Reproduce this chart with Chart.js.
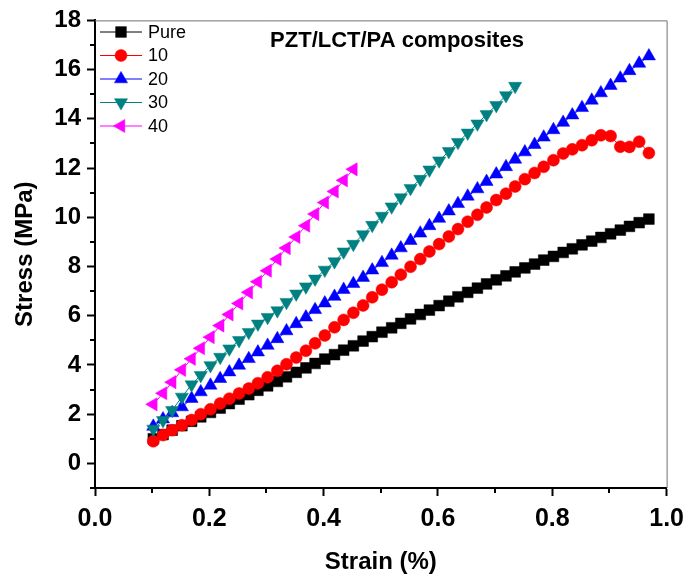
<!DOCTYPE html>
<html>
<head>
<meta charset="utf-8">
<script src="https://cdn.jsdelivr.net/npm/chart.js@4.4.1/dist/chart.umd.min.js"></script>
<style>
  html, body { margin: 0; padding: 0; background: #fff; }
  #wrap { width: 692px; height: 581px; }
</style>
</head>
<body>
<div id="wrap"><canvas id="stressChart" width="692" height="581"></canvas></div>
<script>
(() => {
  'use strict';

  // strain (%) sampling, shared by all curves
  const strain = [
    0.102, 0.119, 0.135, 0.152, 0.169, 0.185, 0.202, 0.219, 0.235, 0.252,
    0.269, 0.285, 0.302, 0.319, 0.335, 0.352, 0.369, 0.385, 0.402, 0.419,
    0.435, 0.452, 0.469, 0.485, 0.502, 0.519, 0.535, 0.552, 0.569, 0.585,
    0.602, 0.619, 0.635, 0.652, 0.669, 0.685, 0.702, 0.719, 0.735, 0.752,
    0.769, 0.785, 0.802, 0.819, 0.835, 0.852, 0.869, 0.885, 0.902, 0.919,
    0.935, 0.952, 0.969
  ];

  // stress (MPa)
  const stressPure = [
    1.00, 1.17, 1.35, 1.53, 1.71, 1.89, 2.07, 2.25, 2.43, 2.61,
    2.79, 2.97, 3.15, 3.33, 3.52, 3.70, 3.88, 4.06, 4.24, 4.42,
    4.60, 4.78, 4.97, 5.15, 5.33, 5.51, 5.69, 5.87, 6.05, 6.23,
    6.41, 6.59, 6.77, 6.95, 7.12, 7.29, 7.46, 7.62, 7.78, 7.94,
    8.10, 8.26, 8.41, 8.57, 8.72, 8.88, 9.03, 9.18, 9.33, 9.48,
    9.63, 9.78, 9.93
  ];
  const stress10 = [
    0.90, 1.15, 1.35, 1.55, 1.76, 2.00, 2.20, 2.43, 2.63, 2.84,
    3.04, 3.26, 3.50, 3.76, 4.03, 4.30, 4.58, 4.88, 5.20, 5.53,
    5.83, 6.12, 6.42, 6.75, 7.06, 7.36, 7.67, 7.99, 8.30, 8.61,
    8.91, 9.22, 9.52, 9.82, 10.10, 10.40, 10.70, 10.96, 11.25, 11.55,
    11.80, 12.05, 12.32, 12.59, 12.76, 12.93, 13.13, 13.33, 13.30, 12.87,
    12.86, 13.07, 12.61
  ];
  const stress20 = [
    1.50, 1.80, 2.05, 2.29, 2.63, 2.90, 3.17, 3.44, 3.71, 3.98,
    4.25, 4.52, 4.79, 5.06, 5.38, 5.67, 5.94, 6.24, 6.51, 6.78,
    7.06, 7.30, 7.55, 7.85, 8.15, 8.45, 8.75, 9.05, 9.35, 9.65,
    9.95, 10.25, 10.55, 10.85, 11.15, 11.45, 11.75, 12.05, 12.35, 12.65,
    12.95, 13.25, 13.55, 13.85, 14.15, 14.45, 14.75, 15.05, 15.35, 15.65,
    15.95, 16.25, 16.55
  ];
  const stress30 = [
    1.40, 1.75, 2.16, 2.70, 3.20, 3.58, 3.98, 4.32, 4.66, 5.00,
    5.33, 5.67, 5.94, 6.21, 6.55, 6.89, 7.18, 7.50, 7.86, 8.20,
    8.60, 8.91, 9.30, 9.68, 10.05, 10.43, 10.80, 11.18, 11.55, 11.93,
    12.30, 12.68, 13.05, 13.43, 13.80, 14.18, 14.55, 14.95, 15.33
  ];
  const stress40 = [
    2.40, 2.85, 3.30, 3.80, 4.25, 4.68, 5.13, 5.60, 6.05, 6.50,
    6.95, 7.38, 7.83, 8.30, 8.75, 9.20, 9.66, 10.13, 10.60, 11.05,
    11.50, 11.95
  ];

  const seriesNames = ['Pure', '10', '20', '30', '40'];
  const seriesStress = [stressPure, stress10, stress20, stress30, stress40];
  const xMajor = [0, 0.2, 0.4, 0.6, 0.8, 1.0];
  const xMinor = [0.1, 0.3, 0.5, 0.7, 0.9];
  const yMajor = [0, 2, 4, 6, 8, 10, 12, 14, 16, 18];
  const yMinor = [-1, 1, 3, 5, 7, 9, 11, 13, 15, 17];

  const FONT = 'Arial, "Liberation Sans", sans-serif';
  const looks = [
    { color: '#000000', style: 'rect', radius: 7.6, rotation: 0 },
    { color: '#ff0000', style: 'circle', radius: 6, rotation: 0 },
    { color: '#0000ff', style: 'triangle', radius: 7.6, rotation: 0 },
    { color: '#008080', style: 'triangle', radius: 7.6, rotation: 180 },
    { color: '#ff00ff', style: 'triangle', radius: 7.6, rotation: -90 }
  ];

  const datasets = seriesNames.map((name, i) => ({
    label: name,
    data: seriesStress[i].map((y, k) => ({ x: strain[k], y })),
    borderColor: looks[i].color,
    backgroundColor: looks[i].color,
    borderWidth: 1,
    pointStyle: looks[i].style,
    pointRotation: looks[i].rotation,
    pointRadius: looks[i].radius,
    pointBorderWidth: 0.5,
    pointBorderColor: looks[i].color,
    pointBackgroundColor: looks[i].color,
    order: seriesNames.length - 1 - i
  }));

  // minor ticks, grey top/right frame, in-plot title and legend
  const decorPlugin = {
    id: 'decor',
    afterDraw(chart) {
      const { ctx, chartArea: a, scales: { x, y } } = chart;
      ctx.save();
      ctx.strokeStyle = '#000';
      ctx.lineWidth = 2;
      ctx.beginPath();
      xMinor.forEach(v => {
        const px = Math.round(x.getPixelForValue(v));
        ctx.moveTo(px, a.bottom);
        ctx.lineTo(px, a.bottom + 5);
      });
      yMinor.forEach(v => {
        const py = Math.round(y.getPixelForValue(v));
        ctx.moveTo(a.left, py);
        ctx.lineTo(a.left - 5, py);
      });
      ctx.stroke();

      ctx.strokeStyle = '#707070';
      ctx.lineWidth = 1;
      ctx.beginPath();
      ctx.moveTo(a.left, a.top + 0.5);
      ctx.lineTo(a.right + 0.5, a.top + 0.5);
      ctx.lineTo(a.right + 0.5, a.bottom);
      ctx.stroke();

      ctx.fillStyle = '#000';
      ctx.font = 'bold 22px ' + FONT;
      ctx.textAlign = 'center';
      ctx.textBaseline = 'middle';
      ctx.fillText('PZT/LCT/PA composites', 397, 41);

      ctx.font = '18px ' + FONT;
      ctx.textAlign = 'left';
      seriesNames.forEach((name, i) => {
        const ly = 32 + i * 23.5;
        ctx.strokeStyle = looks[i].color;
        ctx.lineWidth = 1;
        ctx.beginPath();
        ctx.moveTo(100, ly);
        ctx.lineTo(142, ly);
        ctx.stroke();
        ctx.fillStyle = looks[i].color;
        ctx.strokeStyle = looks[i].color;
        ctx.lineWidth = 0.5;
        Chart.helpers.drawPoint(ctx, {
          pointStyle: looks[i].style,
          rotation: looks[i].rotation,
          radius: looks[i].radius,
          borderWidth: 0.5
        }, 121, ly);
        ctx.fillStyle = '#000';
        ctx.fillText(name, 148, ly + 1);
      });
      ctx.restore();
    }
  };

  new Chart(document.getElementById('stressChart'), {
    type: 'line',
    data: { datasets },
    options: {
      responsive: false,
      devicePixelRatio: 1,
      animation: false,
      layout: { padding: { top: 19, right: 21, left: 0, bottom: 0 } },
      plugins: { legend: { display: false }, tooltip: { enabled: false } },
      scales: {
        x: {
          type: 'linear',
          min: 0,
          max: 1,
          afterFit: s => { s.height = 93; },
          afterBuildTicks: s => { s.ticks = xMajor.map(v => ({ value: v })); },
          grid: { drawOnChartArea: false, drawTicks: true, tickLength: 8, tickWidth: 2, tickColor: '#000' },
          border: { display: true, color: '#000', width: 2 },
          ticks: {
            padding: 8,
            color: '#000',
            font: { family: FONT, size: 25, weight: 'bold' },
            maxRotation: 0,
            callback: v => Number(v).toFixed(1)
          },
          title: {
            display: true,
            text: 'Strain (%)',
            color: '#000',
            font: { family: FONT, size: 24, weight: 'bold' },
            padding: { top: 0, bottom: 4 }
          }
        },
        y: {
          type: 'linear',
          min: -1,
          max: 18,
          afterFit: s => { s.width = 95; },
          afterBuildTicks: s => { s.ticks = yMajor.map(v => ({ value: v })); },
          grid: { drawOnChartArea: false, drawTicks: true, tickLength: 8, tickWidth: 2, tickColor: '#000' },
          border: { display: true, color: '#000', width: 2 },
          ticks: {
            padding: 6,
            color: '#000',
            font: { family: FONT, size: 24, weight: 'bold' },
            callback: v => String(v)
          },
          title: {
            display: true,
            text: 'Stress (MPa)',
            color: '#000',
            font: { family: FONT, size: 24, weight: 'bold' },
            padding: { top: 11, bottom: 0 }
          }
        }
      }
    },
    plugins: [decorPlugin]
  });
})();
</script>
</body>
</html>
